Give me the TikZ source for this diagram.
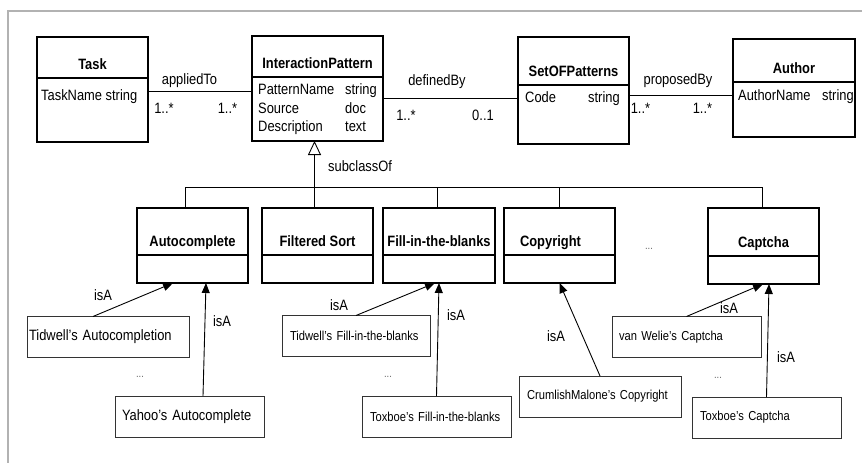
\documentclass[tikz,border=0pt]{standalone}
\usepackage{fontspec}
\setmainfont{Liberation Sans}[FakeStretch=0.86]
\usetikzlibrary{positioning,arrows.meta}
\newcommand{\clsfont}{\bfseries\fontsize{15}{18}\selectfont}
\newcommand{\attfont}{\fontsize{15}{18.5}\selectfont}
\newcommand{\insfont}{\fontsize{15}{18}\selectfont}
\newcommand{\insfontsm}{\fontsize{13}{16}\selectfont}
\definecolor{framegray}{RGB}{178,178,178}

\begin{document}
\begin{tikzpicture}[x=1pt,y=-1pt,
ctitle/.style 2 args={draw, line width=1.6pt, outer sep=0pt, inner ysep=0pt, minimum width=#1, text height=#2, text depth=8.5pt, font=\clsfont},
cbody/.style 2 args={draw, line width=1.6pt, outer sep=0pt, inner sep=0pt, minimum width=#1, minimum height=#2},
attr/.style={inner sep=0pt, align=left, font=\attfont},
inst/.style={draw, draw=black!80, line width=0.9pt, outer sep=0pt, inner ysep=0pt, minimum height=41pt, align=left},
lbl/.style={inner sep=0pt, font=\attfont},
dots/.style={inner sep=0pt, text=black!60, font=\fontsize{11}{13}\selectfont},
link/.style={line width=0.9pt},
isa/.style={line width=0.9pt, -{Triangle[length=10pt,width=8pt]}},
gen/.style={line width=0.9pt, -{Triangle[open,length=14pt,width=13pt]}}
]
\useasboundingbox (0,0) rectangle (862,463);
\draw[framegray, line width=1.2pt] (8,463) |- (862,11);

% classes, top row
\node[ctitle={111pt}{32.5pt}] (task) at (92.5,57.5) {Task};
\node[cbody={111pt}{64pt}] (taskb) [below=0pt of task] {};
\node[ctitle={131pt}{32.5pt}] (ip) at (317.5,56.5) {InteractionPattern};
\node[cbody={131pt}{64pt}] (ipb) [below=0pt of ip] {};
\node[ctitle={111pt}{39.5pt}] (setp) at (573.5,61) {SetOFPatterns};
\node[cbody={111pt}{59pt}] (setpb) [below=0pt of setp] {};
\node[ctitle={122pt}{34.5pt}] (author) at (794,60.5) {Author};
\node[cbody={122pt}{55pt}] (authorb) [below=0pt of author] {};

\node[attr, anchor=west] (taskattr) at (41,97) {TaskName string};
\node[attr, anchor=west] (ipattr) at (258,109.5) {\makebox[87pt][l]{PatternName}string\\\makebox[87pt][l]{Source}doc\\\makebox[87pt][l]{Description}text};
\node[attr, anchor=west] (setpattr) at (525,99) {\makebox[63pt][l]{Code}string};
\node[attr, anchor=west] (authorattr) at (738,97) {\makebox[84pt][l]{AuthorName}string};

% classes, second row
\node[ctitle={111pt}{38.5pt}] (auto) at (192.5,231.5) {Autocomplete};
\node[cbody={111pt}{28pt}] (autob) [below=0pt of auto] {};
\node[ctitle={111pt}{38.5pt}] (fsort) at (317.5,231.5) {Filtered Sort};
\node[cbody={111pt}{28pt}] (fsortb) [below=0pt of fsort] {};
\node[ctitle={112pt}{38.5pt}] (fill) at (439,231.5) {Fill-in-the-blanks};
\node[cbody={112pt}{28pt}] (fillb) [below=0pt of fill] {};
\node[ctitle={111pt}{38.5pt}] (copy) at (559.5,231.5) {Copyright\hspace*{18pt}};
\node[cbody={111pt}{28pt}] (copyb) [below=0pt of copy] {};
\node[ctitle={111pt}{39.5pt}] (captcha) at (763.5,232) {Captcha};
\node[cbody={111pt}{28pt}] (captchab) [below=0pt of captcha] {};
\node[dots] (dotsrow) at (649,249) {...};

% instances
\node[inst, inner xsep=2pt, text width=158pt, font=\insfont] (tidauto) at (108,337) {Tidwell’s Autocompletion};
\node[inst, inner xsep=7pt, text width=135pt, font=\insfont] (yahoo) at (189.5,416.5) {Yahoo’s Autocomplete};
\node[inst, inner xsep=8pt, text width=132pt, font=\insfontsm] (tidfill) at (356,336) {Tidwell’s Fill-in-the-blanks};
\node[inst, inner xsep=8pt, text width=133pt, font=\insfontsm] (toxfill) at (436.5,416.5) {Toxboe’s Fill-in-the-blanks};
\node[inst, inner xsep=8pt, text width=146pt, font=\insfontsm] (crumlish) at (600,396.5) {CrumlishMalone’s Copyright};
\node[inst, inner xsep=7pt, text width=135pt, font=\insfontsm] (vanwelie) at (686.5,337) {van Welie’s Captcha};
\node[inst, inner xsep=8pt, text width=133pt, font=\insfontsm] (toxcap) at (766.5,417.5) {Toxboe’s Captcha};
\node[dots] (dotsauto) at (140,377) {...};
\node[dots] (dotsfill) at (388,377) {...};
\node[dots] (dotscap) at (718,378) {...};

% associations
\draw[link] ([yshift=-13pt]taskb.north east) -- ([yshift=-14pt]ipb.north west);
\node[lbl] (applied) at (189.5,81) {appliedTo};
\node[lbl] (m1) at (164,108) {1..*};
\node[lbl] (m2) at (227.5,108) {1..*};

\draw[link] ([yshift=-21pt]ipb.north east) -- ([yshift=-13pt]setpb.north west);
\node[lbl] (defined) at (437,82) {definedBy};
\node[lbl] (m3) at (406,115) {1..*};
\node[lbl] (m4) at (483,115) {0..1};

\draw[link] ([yshift=-10pt]setpb.north east) -- ([yshift=-13pt]authorb.north west);
\node[lbl] (proposed) at (678,81) {proposedBy};
\node[lbl] (m5) at (640.5,108) {1..*};
\node[lbl] (m6) at (702.5,108) {1..*};

% generalisation
\coordinate (bar) at (0,187);
\draw[gen] ([xshift=-3pt]fsort.north) -- ([xshift=-3pt]ipb.south);
\draw[link] ([xshift=-7pt]auto.north) |- ([xshift=-1.5pt]captcha.north |- bar) -- ([xshift=-1.5pt]captcha.north);
\draw[link] ([xshift=-2pt]fill.north) -- ([xshift=-2pt]fill.north |- bar);
\draw[link] (copy.north) -- (copy.north |- bar);
\node[lbl, anchor=west] (subcl) at (328,166) {subclassOf};

% isA links
\draw[isa] ([xshift=-15pt]tidauto.north) -- ([xshift=-19.5pt]autob.south);
\draw[isa] ([xshift=13.5pt]yahoo.north) -- ([xshift=13.5pt]autob.south);
\draw[isa] (tidfill.north) -- ([xshift=-4pt]fillb.south);
\draw[isa] (toxfill.north) -- (fillb.south);
\draw[isa] (crumlish.north) -- (copyb.south);
\draw[isa] (vanwelie.north) -- ([xshift=-0.5pt]captchab.south);
\draw[isa] (toxcap.north) -- ([xshift=5.5pt]captchab.south);
\node[lbl] (isa1) at (103,295) {isA};
\node[lbl] (isa2) at (222,321) {isA};
\node[lbl] (isa3) at (339,305) {isA};
\node[lbl] (isa4) at (456,315) {isA};
\node[lbl] (isa5) at (556,336) {isA};
\node[lbl] (isa6) at (729,308) {isA};
\node[lbl] (isa7) at (786,357) {isA};
\end{tikzpicture}
\end{document}
